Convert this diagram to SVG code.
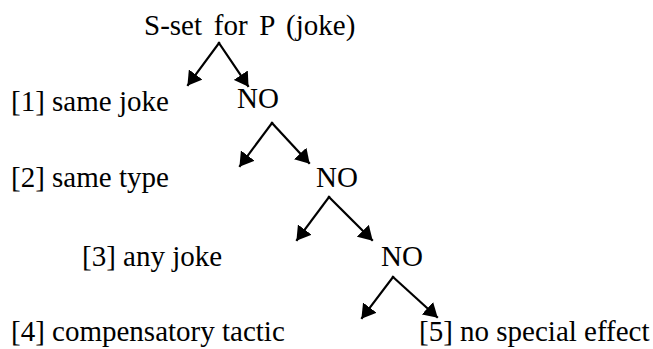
<svg xmlns="http://www.w3.org/2000/svg" width="653" height="349" viewBox="0 0 653 349">
<style>
.t{font-family:'Liberation Serif','Times New Roman',serif;font-size:29px;fill:#000}
.c line{stroke:#000;stroke-width:2.2;stroke-linecap:square;marker-end:url(#ah)}
</style>
<defs>
<marker id="ah" markerUnits="userSpaceOnUse" markerWidth="14" markerHeight="17" refX="13" refY="8.5" orient="auto" viewBox="0 0 14 17">
<path d="M0,0 L14,8.5 L0,17 z" fill="#000"/>
</marker>
</defs>
<rect width="653" height="349" fill="#fff"/>
<g id="root"><text class="t" x="144" y="35" word-spacing="4.5">S-set for P (joke)</text></g>
<g id="n1"><text class="t" x="11" y="111">[1] same joke</text></g>
<g id="no1"><text class="t" x="237" y="108">NO</text></g>
<g id="n2"><text class="t" x="11" y="187">[2] same type</text></g>
<g id="no2"><text class="t" x="316" y="187">NO</text></g>
<g id="n3"><text class="t" x="82" y="266">[3] any joke</text></g>
<g id="no3"><text class="t" x="381" y="266">NO</text></g>
<g id="n4"><text class="t" x="11" y="341">[4] compensatory tactic</text></g>
<g id="n5"><text class="t" x="419" y="341">[5] no special effect</text></g>
<g id="connectors" class="c">
<line x1="219" y1="43" x2="188" y2="85"/>
<line x1="219" y1="43" x2="248" y2="86"/>
<line x1="272" y1="123" x2="240" y2="166"/>
<line x1="272" y1="123" x2="309" y2="163"/>
<line x1="329" y1="197" x2="297" y2="240"/>
<line x1="329" y1="197" x2="372" y2="240"/>
<line x1="393" y1="277" x2="362" y2="318"/>
<line x1="393" y1="277" x2="437" y2="317"/>
</g>
</svg>
